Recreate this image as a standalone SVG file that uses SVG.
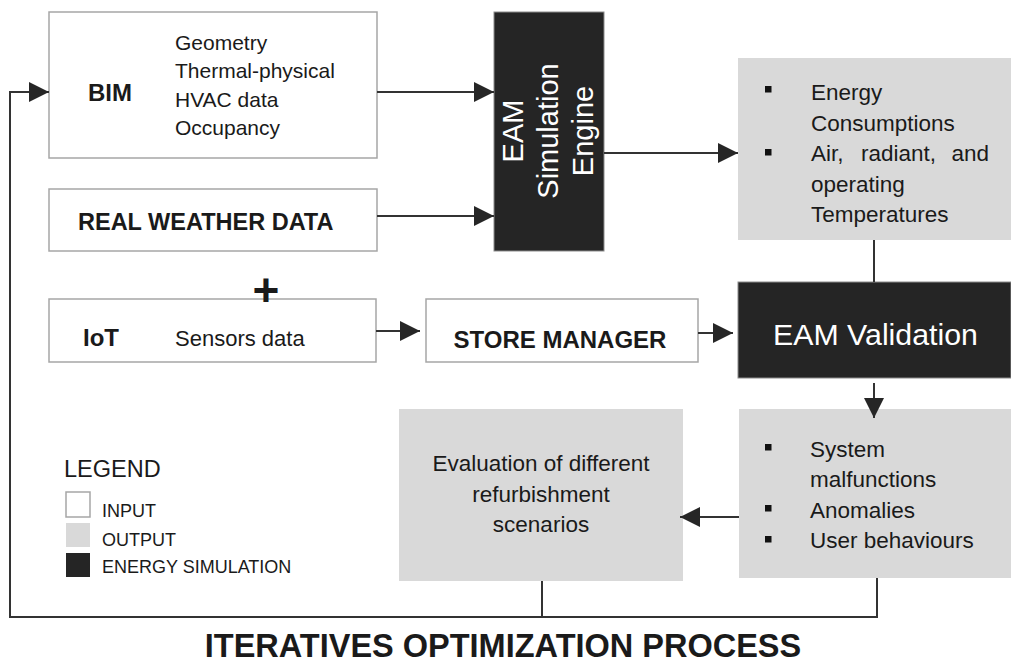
<svg xmlns="http://www.w3.org/2000/svg" width="1011" height="663" viewBox="0 0 1011 663">
<style>
text{font-family:"Liberation Sans",Arial,sans-serif;fill:#1a1a1a}
.in{fill:#fff;stroke:#a6a6a6;stroke-width:1.5}
.out{fill:#d9d9d9}
.sim{fill:#252525;stroke:#8c8c8c;stroke-width:1}
.b{font-weight:bold}
.t{font-size:22.5px}
.w{fill:#fff}
.con{fill:none;stroke:#333;stroke-width:2}
.bul{fill:#111}
</style>
<defs>
<marker id="ah" viewBox="0 0 20 20" markerWidth="20" markerHeight="20" refX="20" refY="10" orient="auto" markerUnits="userSpaceOnUse">
<path d="M0,0 L20,10 L0,20 z" fill="#262626"/>
</marker>
</defs>
<rect width="1011" height="663" fill="#fff"/>

<g id="bim">
<rect class="in" x="49" y="12" width="328" height="146"/>
<text class="b" x="88" y="101" font-size="24">BIM</text>
<text x="175" y="50" font-size="21">Geometry</text>
<text x="175" y="78" font-size="21">Thermal-physical</text>
<text x="175" y="106.5" font-size="21">HVAC data</text>
<text x="175" y="135" font-size="21">Occupancy</text>
</g>

<g id="weather">
<rect class="in" x="49" y="189" width="328" height="62"/>
<text class="b" x="78" y="230" font-size="23.5">REAL WEATHER DATA</text>
</g>

<g id="iot">
<rect class="in" x="49" y="299" width="327" height="63"/>
<text class="b" x="83" y="346" font-size="24">IoT</text>
<text x="175" y="346" font-size="22">Sensors data</text>
</g>

<g id="plus">
<text class="b" x="266" y="306" font-size="46" text-anchor="middle" font-family="DejaVu Sans, sans-serif">+</text>
</g>

<g id="store">
<rect class="in" x="426" y="299" width="272" height="63"/>
<text class="b" x="560" y="348" font-size="24" text-anchor="middle">STORE MANAGER</text>
</g>

<g id="engine">
<rect class="sim" x="494" y="12" width="110" height="239"/>
<g transform="translate(0,131) rotate(-90)" font-size="29" text-anchor="middle">
<text class="w" x="0" y="523">EAM</text>
<text class="w" x="0" y="558">Simulation</text>
<text class="w" x="0" y="593">Engine</text>
</g>
</g>

<g id="output1">
<rect class="out" x="738" y="58" width="273" height="182"/>
<rect class="bul" x="765" y="86" width="6.5" height="6.5"/>
<rect class="bul" x="765" y="149" width="6.5" height="6.5"/>
<text class="t" x="811" y="100">Energy</text>
<text class="t" x="811" y="130.5">Consumptions</text>
<text class="t" x="811" y="161">Air,</text>
<text class="t" x="861" y="161">radiant,</text>
<text class="t" x="989" y="161" text-anchor="end">and</text>
<text class="t" x="811" y="191.5">operating</text>
<text class="t" x="811" y="222">Temperatures</text>
</g>

<g id="validation">
<rect class="sim" x="738" y="282" width="273" height="96"/>
<text class="w" x="773" y="345" font-size="30.3">EAM Validation</text>
</g>

<g id="output2">
<rect class="out" x="739" y="409" width="272" height="169"/>
<rect class="bul" x="765" y="444" width="6.5" height="6.5"/>
<rect class="bul" x="765" y="505" width="6.5" height="6.5"/>
<rect class="bul" x="765" y="536" width="6.5" height="6.5"/>
<text class="t" x="810" y="457">System</text>
<text class="t" x="810" y="487">malfunctions</text>
<text class="t" x="810" y="518">Anomalies</text>
<text class="t" x="810" y="548">User behaviours</text>
</g>

<g id="evaluation">
<rect class="out" x="399" y="409" width="284" height="172"/>
<g text-anchor="middle">
<text class="t" x="541" y="471">Evaluation of different</text>
<text class="t" x="541" y="502">refurbishment</text>
<text class="t" x="541" y="532">scenarios</text>
</g>
</g>

<g id="legend">
<text x="64" y="477" font-size="23.5">LEGEND</text>
<rect class="in" x="66" y="492" width="24" height="25"/>
<rect class="out" x="66" y="523" width="24" height="24"/>
<rect fill="#252525" x="66" y="553" width="24" height="24"/>
<text x="102" y="517" font-size="18">INPUT</text>
<text x="102" y="546" font-size="18">OUTPUT</text>
<text x="102" y="573" font-size="18">ENERGY SIMULATION</text>
</g>

<g id="title">
<text class="b" x="503" y="657" font-size="32.5" text-anchor="middle">ITERATIVES OPTIMIZATION PROCESS</text>
</g>

<g id="connectors">
<path class="con" d="M377,92 H494" marker-end="url(#ah)"/>
<path class="con" d="M377,216 H494" marker-end="url(#ah)"/>
<path class="con" d="M604,153 H738" marker-end="url(#ah)"/>
<path class="con" d="M874,240 V282"/>
<path class="con" d="M376,331 H420" marker-end="url(#ah)"/>
<path class="con" d="M698,333 H733" marker-end="url(#ah)"/>
<path class="con" d="M874,383 V418" marker-end="url(#ah)"/>
<path class="con" d="M739,517 H680" marker-end="url(#ah)"/>
<path class="con" d="M542,581 V617"/>
<path class="con" d="M877,578 V617 H10 V92 H49" marker-end="url(#ah)"/>
</g>
</svg>
